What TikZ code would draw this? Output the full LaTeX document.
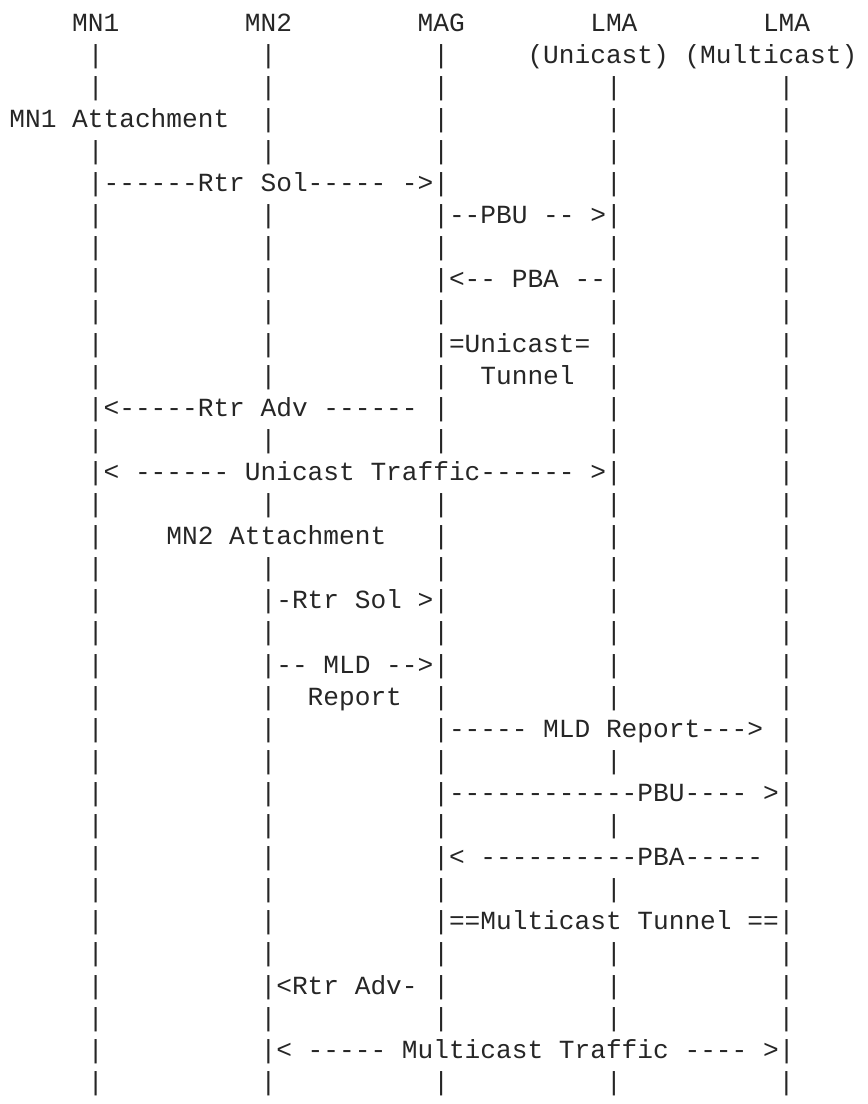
\documentclass[tikz,border=0pt]{standalone}
\usepackage{fontspec}
\newfontfamily\flowmono{Liberation Mono}
\definecolor{ink}{HTML}{262626}
% grid of the character chart: left edge, cell width, first baseline, line pitch
\newcommand\xo{9.4}
\newcommand\cw{15.7}
\newcommand\yo{31}
\newcommand\lp{32.1}
% text run starting at a given row and column
\newcommand\asc[3]{\node[txt] (r#1c#2) at ({\xo+#2*\cw},{\yo+(#1-1)*\lp}) {#3};}
% lifeline segments in a row
\newcommand\bars[2]{\foreach \c in {#2} {\asc{#1}{\c}{|}}}
\newcommand\allbars[1]{\bars{#1}{5,16,27,38,49}}
\begin{document}
\frenchspacing
\begin{tikzpicture}[x=1pt,y=-1pt,
  txt/.style={anchor=base west, inner sep=0pt, outer sep=0pt,
    font=\flowmono\fontsize{26.17}{30}\selectfont, text=ink}]
\useasboundingbox (0,0) rectangle (868,1104);
% entities
\asc{1}{4}{MN1}
\asc{1}{15}{MN2}
\asc{1}{26}{MAG}
\asc{1}{37}{LMA}
\asc{1}{48}{LMA}
\bars{2}{5,16,27}
\asc{2}{33}{(Unicast)}
\asc{2}{43}{(Multicast)}
\allbars{3}
% MN1 attaches
\asc{4}{0}{MN1 Attachment}
\bars{4}{16,27,38,49}
\allbars{5}
\asc{6}{5}{|------Rtr Sol----- ->|}
\bars{6}{38,49}
\bars{7}{5,16,49}
\asc{7}{27}{|--PBU -- >|}
\allbars{8}
\bars{9}{5,16,49}
\asc{9}{27}{|<-- PBA --|}
\allbars{10}
\bars{11}{5,16,49}
\asc{11}{27}{|=Unicast= |}
\allbars{12}
\asc{12}{30}{Tunnel}
\asc{13}{5}{|<-----Rtr Adv ------ |}
\bars{13}{38,49}
\allbars{14}
\asc{15}{5}{|< ------ Unicast Traffic------ >|}
\bars{15}{49}
\allbars{16}
% MN2 attaches
\bars{17}{5,27,38,49}
\asc{17}{10}{MN2 Attachment}
\allbars{18}
\bars{19}{5,38,49}
\asc{19}{16}{|-Rtr Sol >|}
\allbars{20}
\bars{21}{5,38,49}
\asc{21}{16}{|-- MLD -->|}
\allbars{22}
\asc{22}{19}{Report}
\bars{23}{5,16}
\asc{23}{27}{|----- MLD Report---> |}
\allbars{24}
\bars{25}{5,16}
\asc{25}{27}{|------------PBU---- >|}
\allbars{26}
\bars{27}{5,16}
\asc{27}{27}{|< ----------PBA----- |}
\allbars{28}
\bars{29}{5,16}
\asc{29}{27}{|==Multicast Tunnel ==|}
\allbars{30}
\bars{31}{5,38,49}
\asc{31}{16}{|<Rtr Adv- |}
\allbars{32}
\bars{33}{5}
\asc{33}{16}{|< ----- Multicast Traffic ---- >|}
\allbars{34}
\end{tikzpicture}
\end{document}
